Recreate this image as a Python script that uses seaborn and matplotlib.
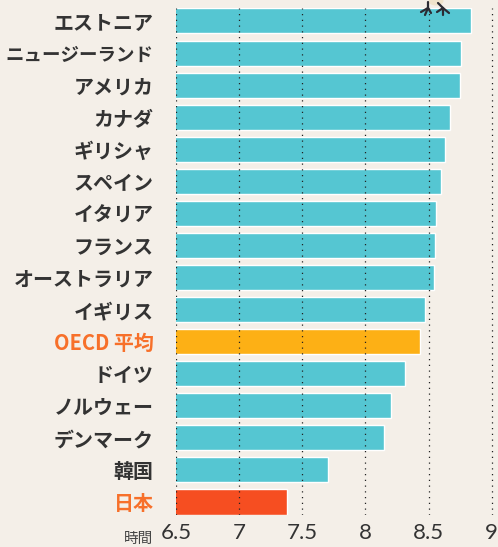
import matplotlib
matplotlib.use("Agg")
import matplotlib.pyplot as plt
from matplotlib.patches import Ellipse
import seaborn as sns
import pandas as pd

countries = ["エストニア", "ニュージーランド", "アメリカ", "カナダ", "ギリシャ", "スペイン", "イタリア", "フランス",
             "オーストラリア", "イギリス", "OECD 平均", "ドイツ", "ノルウェー", "デンマーク", "韓国", "日本"]
hours = [8.84, 8.76, 8.75, 8.67, 8.63, 8.60, 8.56, 8.55, 8.54, 8.47, 8.43, 8.31, 8.20, 8.15, 7.70, 7.38]
kinds = ["他"] * 10 + ["OECD"] + ["他"] * 4 + ["日本"]
xticks = [6.5, 7, 7.5, 8, 8.5, 9]
xticklabels = ["6.5", "7", "7.5", "8", "8.5", "9"]
palette = {"他": "#55C6D2", "OECD": "#FDB015", "日本": "#F64E21"}

BG = "#F4EFE8"
W, H = 498, 547
sns.set_theme(style="white")
plt.rcParams["font.family"] = ["Noto Sans CJK JP", "DejaVu Sans"]

fig = plt.figure(figsize=(W / 100, H / 100), dpi=100, facecolor=BG)
ax = fig.add_axes([176 / W, 1 - 514.5 / H, (W - 176) / W, (514.5 - 7.5) / H], facecolor=BG)

df = pd.DataFrame({"country": countries, "hours": hours, "kind": kinds})
sns.barplot(data=df, y="country", x="hours", hue="kind", palette=palette, dodge=False,
            legend=False, width=0.78, ax=ax, zorder=2, saturation=1, orient="h")

ax.set_xlim(6.5, 9.05)
ax.set_ylim(15.39, -0.42)
ax.set_xlabel("")
ax.set_ylabel("")
for s in ax.spines.values():
    s.set_visible(False)

for x in xticks:
    ax.axvline(x, color="#222222", lw=0.9, ls=(0, (1, 3.6)), zorder=3)

ax.set_xticks(xticks)
ax.set_xticklabels(xticklabels, fontfamily="Lato", fontsize=16, color="#333333")
ax.tick_params(axis="x", length=0, pad=6)
ax.tick_params(axis="y", length=0, pad=16)
for lab, c in zip(ax.get_yticklabels(), countries):
    lab.set_fontweight("bold")
    lab.set_fontsize(13.3 if c == "ニュージーランド" else 14.4)
    lab.set_color("#F7702A" if c in ("OECD 平均", "日本") else "#333333")

fig.text(153 / W, 1 - 538.5 / H, "時間", ha="right", va="center", fontsize=10.5, color="#444444")

# bird standing on the top bar: body and feet
fig.add_artist(Ellipse((436 / W, 1 - 1 / H), 15 / W, 9 / H, facecolor="#EFE3CB", edgecolor="none"))
foot = "#2B2B33"
feet = [((428, 2), (428, 8), [(421, 12), (425, 15), (431, 13)]),
        ((438, 3), (443, 8), [(437, 12), (443, 15), (449, 13)])]
for top, joint, toes in feet:
    fig.add_artist(plt.Line2D([top[0] / W, joint[0] / W], [1 - top[1] / H, 1 - joint[1] / H], color=foot, lw=1.6))
    for tx, ty in toes:
        fig.add_artist(plt.Line2D([joint[0] / W, tx / W], [1 - joint[1] / H, 1 - ty / H], color=foot, lw=1.6))

fig.savefig("out.png", dpi=100, facecolor=BG)
